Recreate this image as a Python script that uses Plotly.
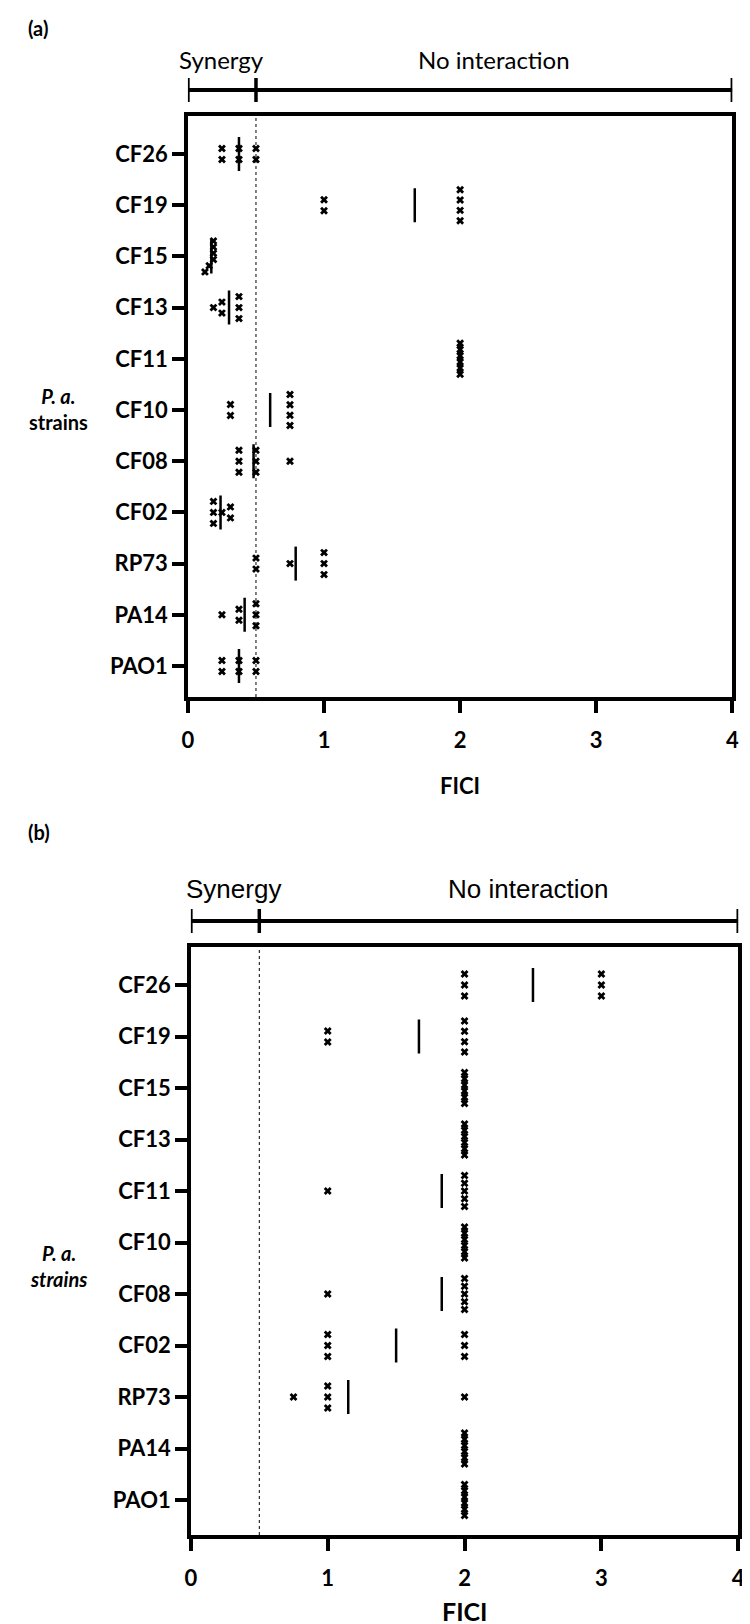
import numpy as np
import plotly.graph_objects as go

# ---------------- data ----------------
strains = ["PAO1", "PA14", "RP73", "CF02", "CF08", "CF10", "CF11", "CF13", "CF15", "CF19", "CF26"]

fici_a = [
    [0.25, 0.25, 0.375, 0.375, 0.5, 0.5],            # PAO1
    [0.25, 0.375, 0.375, 0.5, 0.5, 0.5],             # PA14
    [0.5, 0.5, 0.75, 1.0, 1.0, 1.0],                 # RP73
    [0.1875, 0.1875, 0.1875, 0.25, 0.3125, 0.3125],  # CF02
    [0.375, 0.375, 0.375, 0.5, 0.5, 0.5, 0.75],      # CF08
    [0.3125, 0.3125, 0.75, 0.75, 0.75, 0.75],        # CF10
    [2, 2, 2, 2, 2, 2],                              # CF11
    [0.1875, 0.25, 0.25, 0.375, 0.375, 0.375],       # CF13
    [0.125, 0.15625, 0.1875, 0.1875, 0.1875, 0.1875],# CF15
    [1, 1, 2, 2, 2, 2],                              # CF19
    [0.25, 0.25, 0.375, 0.375, 0.5, 0.5],            # CF26
]

fici_b = [
    [2, 2, 2, 2, 2, 2],          # PAO1
    [2, 2, 2, 2, 2, 2],          # PA14
    [0.75, 1, 1, 1, 2],          # RP73
    [1, 1, 1, 2, 2, 2],          # CF02
    [1, 2, 2, 2, 2, 2],          # CF08
    [2, 2, 2, 2, 2, 2],          # CF10
    [1, 2, 2, 2, 2, 2],          # CF11
    [2, 2, 2, 2, 2, 2],          # CF13
    [2, 2, 2, 2, 2, 2],          # CF15
    [1, 1, 2, 2, 2, 2],          # CF19
    [2, 2, 2, 3, 3, 3],          # CF26
]

x_ticks = [0, 1, 2, 3, 4]
synergy_cut = 0.5
x_max = 4
region_labels = ["Synergy", "No interaction"]

# ---------------- layout geometry (pixels) ----------------
W, H = 750, 1624
panels = {
    "a": dict(x0=177, x1=731, top=108, bottom=689, cat_top=146, cat_bot=658,
              bracket=82, label_y=51, title_y=777, tag_y=20, strain_y=401,
              syn_x=0.25, noint_x=2.25, lab_font=dict(family="Lato", size=24, color="black"),
              title_size=22, standoff=9),
    "b": dict(x0=180, x1=737, top=939, bottom=1527, cat_top=977, cat_bot=1492,
              bracket=913, label_y=881, title_y=1603, tag_y=824, strain_y=1258,
              syn_x=0.31, noint_x=2.46, lab_font=dict(family="Liberation Sans", size=26, color="black"),
              title_size=25, standoff=9),
}

def py(p):
    return 1 - p / H

fig = go.Figure()

def stack(vals, px_x, px_cat, tol=5.5, sp=11.0, span=31.0):
    v = sorted(vals)
    groups, cur = [], [v[0]]
    for a in v[1:]:
        if (a - cur[-1]) * px_x < tol:
            cur.append(a)
        else:
            groups.append(cur)
            cur = [a]
    groups.append(cur)
    xs, ys = [], []
    for g in groups:
        n = len(g)
        s = min(sp, span / (n - 1)) if n > 1 else 0
        for k, val in enumerate(g):
            xs.append(val)
            ys.append((k - (n - 1) / 2) * s / px_cat)
    return xs, ys

for key, data, xa, ya in (("a", fici_a, "x", "y"), ("b", fici_b, "x2", "y2")):
    g = panels[key]
    px_x = (g["x1"] - g["x0"]) / x_max
    px_cat = (g["cat_bot"] - g["cat_top"]) / (len(strains) - 1)
    ymax = (g["cat_bot"] - g["top"]) / px_cat
    ymin = (g["cat_bot"] - g["bottom"]) / px_cat

    mx, my, lx, ly = [], [], [], []
    for i, vals in enumerate(data):
        xs, ys = stack(vals, px_x, px_cat)
        mx += xs
        my += [i + o for o in ys]
        m = float(np.mean(vals))
        h = 17 / px_cat
        lx += [m, m, None]
        ly += [i - h, i + h, None]

    fig.add_trace(go.Scatter(x=lx, y=ly, mode="lines", line=dict(color="black", width=2.5),
                             xaxis=xa, yaxis=ya, showlegend=False, hoverinfo="skip"))
    fig.add_trace(go.Scatter(x=mx, y=my, mode="markers",
                             marker=dict(symbol="x", size=7, color="black", line=dict(width=0)),
                             xaxis=xa, yaxis=ya, showlegend=False))

    xname = "xaxis" if key == "a" else "xaxis2"
    yname = "yaxis" if key == "a" else "yaxis2"
    fig.update_layout({
        xname: dict(domain=[g["x0"] / W, g["x1"] / W], range=[0, x_max], anchor=ya,
                    tickvals=x_ticks, ticktext=[f"<b>{t}</b>" for t in x_ticks],
                    ticks="outside", ticklen=12, tickwidth=3.5, tickcolor="black",
                    ticklabelstandoff=g["standoff"],
                    showline=True, linewidth=3.5, linecolor="black", mirror=True,
                    showgrid=False, zeroline=False,
                    tickfont=dict(family="Lato", size=22, color="black")),
        yname: dict(domain=[py(g["bottom"]), py(g["top"])], range=[ymin, ymax], anchor=xa,
                    tickvals=list(range(len(strains))), ticktext=[f"<b>{s}</b>" for s in strains],
                    ticks="outside", ticklen=12, tickwidth=3.5, tickcolor="black",
                    showline=True, linewidth=3.5, linecolor="black", mirror=True,
                    showgrid=False, zeroline=False,
                    tickfont=dict(family="Lato", size=22, color="black")),
    })

    # dashed synergy threshold
    fig.add_shape(type="line", xref=xa, yref="paper", x0=synergy_cut, x1=synergy_cut,
                  y0=py(g["bottom"]), y1=py(g["top"]),
                  line=dict(color="black", width=1, dash="3px,3px"))
    # bracket
    fig.add_shape(type="line", xref=xa, yref="paper", x0=0, x1=x_max,
                  y0=py(g["bracket"]), y1=py(g["bracket"]), line=dict(color="black", width=4))
    for xv in (0, synergy_cut, x_max):
        fig.add_shape(type="line", xref=xa, yref="paper", x0=xv, x1=xv,
                      y0=py(g["bracket"] - 12), y1=py(g["bracket"] + 12),
                      line=dict(color="black", width=3.5))

    fig.add_annotation(x=g["syn_x"], y=py(g["label_y"]), xref=xa, yref="paper",
                       text=region_labels[0], showarrow=False, font=g["lab_font"],
                       xanchor="center", yanchor="middle")
    fig.add_annotation(x=g["noint_x"], y=py(g["label_y"]), xref=xa, yref="paper",
                       text=region_labels[1], showarrow=False, font=g["lab_font"],
                       xanchor="center", yanchor="middle")
    fig.add_annotation(x=x_max / 2, y=py(g["title_y"]), xref=xa, yref="paper", text="<b>FICI</b>",
                       showarrow=False, font=dict(family="Lato", size=g["title_size"], color="black"),
                       xanchor="center", yanchor="middle")
    fig.add_annotation(x=12 / W, y=py(g["tag_y"]), xref="paper", yref="paper", text=f"<b>({key})</b>",
                       showarrow=False, font=dict(family="Lato", size=20, color="black"),
                       xanchor="left", yanchor="middle")
    strain_txt = "<b><i>P. a.</i></b><br><b>strains</b>" if key == "a" else "<b><i>P. a.<br>strains</i></b>"
    fig.add_annotation(x=45 / W, y=py(g["strain_y"]), xref="paper", yref="paper", text=strain_txt,
                       showarrow=False, font=dict(family="Lato", size=20, color="black"),
                       xanchor="center", yanchor="middle", align="center")

fig.update_layout(width=W, height=H, margin=dict(l=0, r=0, t=0, b=0),
                  plot_bgcolor="white", paper_bgcolor="white", showlegend=False)

fig.write_html("out.html")
